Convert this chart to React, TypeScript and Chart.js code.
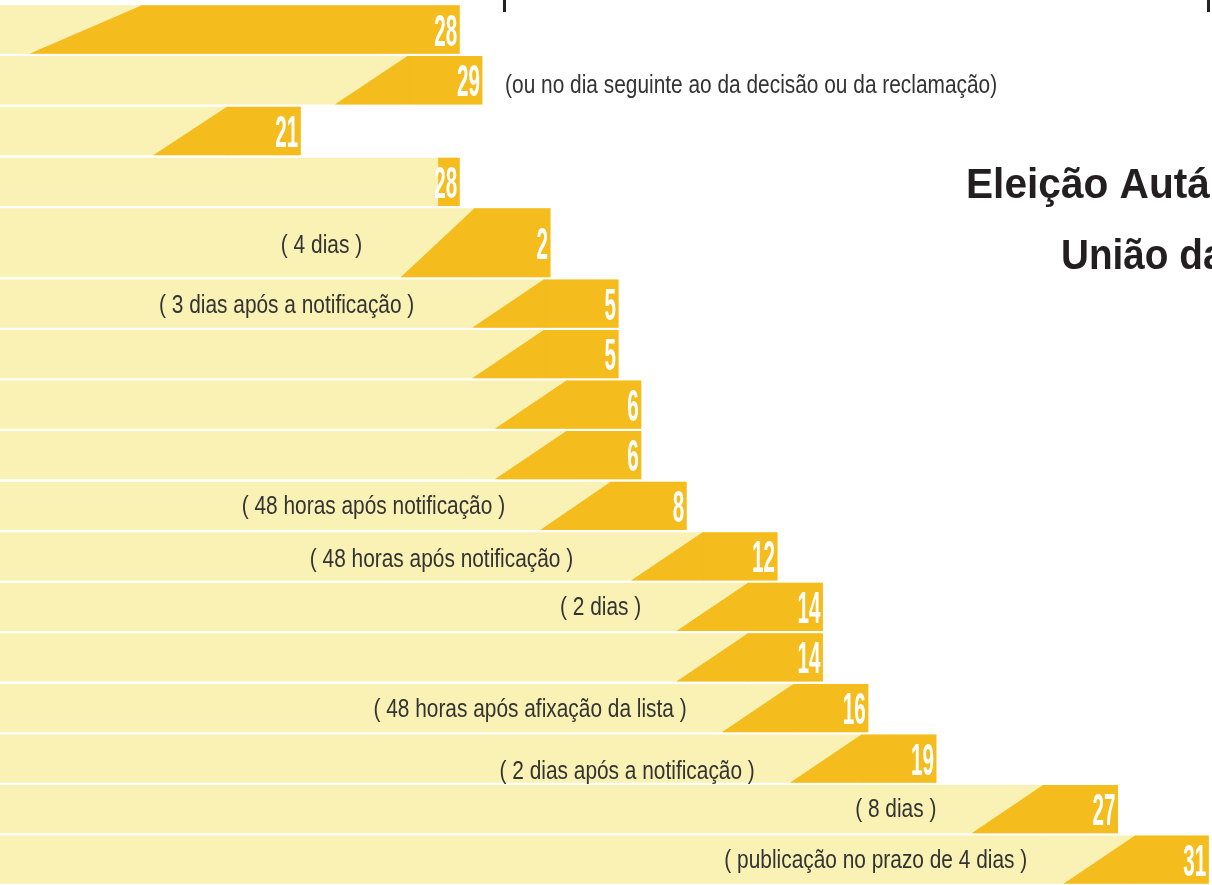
import React, { useEffect, useRef } from 'react';
import { Chart, registerables } from 'chart.js';

Chart.register(...registerables);

// ---- data (x values are running day numbers; the second month starts after day 30) ----
const dayLabels = ['28', '29', '21', '28', '2', '5', '5', '6', '6', '8', '12', '14', '14', '16', '19', '27', '31'];
const paleStartDay = [1, 1, 1, 1, 1, 1, 1, 1, 1, 1, 1, 1, 1, 1, 1, 1, 1];
const endDay = [28, 29, 21, 28, 32, 35, 35, 36, 36, 38, 42, 44, 44, 46, 49, 57, 61];
const darkTopDay = [14.0, 25.7, 17.75, 27.05, 28.65, 31.7, 31.7, 32.7, 32.7, 34.65, 38.7, 40.7, 40.7, 42.7, 45.7, 53.7, 57.75];
const darkBottomDay = [9.05, 22.5, 14.5, 27.05, 25.4, 28.55, 28.55, 29.55, 29.55, 31.55, 35.55, 37.55, 37.55, 39.55, 42.55, 50.55, 54.6];
const noteTexts = [
  '', '', '', '',
  '( 4 dias )',
  '( 3 dias após a notificação )',
  '', '', '',
  '( 48 horas após notificação )',
  '( 48 horas após notificação )',
  '( 2 dias )',
  '',
  '( 48 horas após afixação da lista )',
  '( 2 dias após a notificação )',
  '( 8 dias )',
  '( publicação no prazo de 4 dias )',
];
const noteEndDay = [null, null, null, null, 23.7, 26, null, null, null, 30, 33, 36, null, 38, 41, 49, 53];
const sideNoteText = '(ou no dia seguinte ao da decisão ou da reclamação)';
const sideNoteRow = 1;
const sideNoteStartDay = 30;
const topMarkDays = [30, 61];
const titleLines = ['Eleição Autárquica', 'União das Freguesias'];

// ---- styling ----
const PALE = '#FAF1B4';
const DARK = '#F4BC1C';
const TEXT = '#333333';
const FONT = '"Liberation Sans", Arial, "DejaVu Sans", sans-serif';
const noteOffsetY = [0, 0, 0, 0, 3, 3, 0, 0, 0, 1, 4, 1, 0, 2, 14, 1, 1];

const groups = [
  { id: 'yA', from: 0, to: 4, stackWeight: 203, weight: 3, barPct: 0.955 },
  { id: 'yB', from: 4, to: 5, stackWeight: 71, weight: 2, barPct: 0.972 },
  { id: 'yC', from: 5, to: 17, stackWeight: 606.6, weight: 1, barPct: 0.955 },
];

function rowsOf(g) {
  const r = [];
  for (let i = g.from; i < g.to; i++) r.push(i);
  return r;
}

function drawScaled(ctx, text, x, y, sx, align) {
  ctx.save();
  ctx.translate(x, y);
  ctx.scale(sx, 1);
  ctx.textAlign = align;
  ctx.fillText(text, 0, 0);
  ctx.restore();
}

export default function App() {
  const canvasRef = useRef(null);

  useEffect(() => {
    document.body.style.margin = '0';
    const datasets = [];
    const datasetInfo = [];
    groups.forEach((g) => {
      const rows = rowsOf(g);
      datasets.push({
        label: 'prazo',
        data: rows.map((i) => [paleStartDay[i], endDay[i]]),
        backgroundColor: PALE,
        borderWidth: 0,
        yAxisID: g.id,
        xAxisID: 'x',
        grouped: false,
        categoryPercentage: 1,
        barPercentage: g.barPct,
        order: 2,
      });
      datasetInfo.push({ kind: 'pale', rows });
      datasets.push({
        label: 'data',
        data: rows.map((i) => [darkTopDay[i], endDay[i]]),
        backgroundColor: DARK,
        borderWidth: 0,
        yAxisID: g.id,
        xAxisID: 'x',
        grouped: false,
        categoryPercentage: 1,
        barPercentage: g.barPct,
        order: 1,
      });
      datasetInfo.push({ kind: 'dark', rows });
    });

    const scales = {
      x: { type: 'linear', min: 7.75, max: 61.14, display: false },
    };
    groups.forEach((g) => {
      scales[g.id] = {
        type: 'category',
        labels: rowsOf(g).map((i) => dayLabels[i]),
        position: 'left',
        stack: 'rows',
        stackWeight: g.stackWeight,
        weight: g.weight,
        offset: true,
        display: false,
      };
    });

    const overlay = {
      id: 'overlay',
      afterDatasetsDraw(chart) {
        const ctx = chart.ctx;
        const xs = chart.scales.x;
        const rowCenter = {};
        ctx.save();
        // slanted part of the dark marks + day numbers
        chart.data.datasets.forEach((ds, di) => {
          const info = datasetInfo[di];
          if (!info || info.kind !== 'dark') return;
          const meta = chart.getDatasetMeta(di);
          meta.data.forEach((el, j) => {
            const row = info.rows[j];
            const p = el.getProps(['x', 'y', 'height'], true);
            const top = p.y - p.height / 2;
            const bottom = p.y + p.height / 2;
            rowCenter[row] = p.y;
            const xt = xs.getPixelForValue(darkTopDay[row]);
            const xb = xs.getPixelForValue(darkBottomDay[row]);
            if (xt - xb > 0.5) {
              ctx.fillStyle = DARK;
              ctx.beginPath();
              ctx.moveTo(xt + 0.6, top);
              ctx.lineTo(xt + 0.6, bottom);
              ctx.lineTo(xb, bottom);
              ctx.lineTo(xt, top);
              ctx.closePath();
              ctx.fill();
            }
            ctx.fillStyle = '#FFFFFF';
            ctx.font = 'bold 44px ' + FONT;
            ctx.textBaseline = 'alphabetic';
            drawScaled(ctx, dayLabels[row], p.x - 2.5, p.y + 16, 0.47, 'right');
          });
        });
        // notes inside the pale bars
        ctx.fillStyle = TEXT;
        ctx.font = '25px ' + FONT;
        ctx.textBaseline = 'middle';
        noteTexts.forEach((t, row) => {
          if (!t || noteEndDay[row] == null) return;
          const x = xs.getPixelForValue(noteEndDay[row]);
          drawScaled(ctx, t, x, rowCenter[row] + noteOffsetY[row], 0.835, 'right');
        });
        // side note
        drawScaled(ctx, sideNoteText, xs.getPixelForValue(sideNoteStartDay), rowCenter[sideNoteRow] + 6, 0.835, 'left');
        // top marks
        ctx.strokeStyle = '#222222';
        ctx.lineWidth = 3;
        topMarkDays.forEach((d) => {
          const x = Math.round(xs.getPixelForValue(d)) - 0.5;
          ctx.beginPath();
          ctx.moveTo(x, 0);
          ctx.lineTo(x, 12);
          ctx.stroke();
        });
        // title
        ctx.fillStyle = '#231F20';
        ctx.font = 'bold 43px ' + FONT;
        ctx.textBaseline = 'alphabetic';
        drawScaled(ctx, titleLines[0], 966, 198, 0.945, 'left');
        drawScaled(ctx, titleLines[1], 1061, 269, 0.9, 'left');
        ctx.restore();
      },
    };

    const chart = new Chart(canvasRef.current, {
      type: 'bar',
      data: { datasets },
      options: {
        indexAxis: 'y',
        responsive: false,
        animation: false,
        devicePixelRatio: 1,
        layout: { padding: { top: 4.2, bottom: 0, left: 0, right: 0 } },
        plugins: { legend: { display: false }, tooltip: { enabled: false }, title: { display: false } },
        scales,
      },
      plugins: [overlay],
    });
    return () => chart.destroy();
  }, []);

  return (
    <div style={{ width: 1212, height: 885, overflow: 'hidden', background: '#ffffff' }}>
      <canvas ref={canvasRef} width={1212} height={885} style={{ display: 'block' }} />
    </div>
  );
}
